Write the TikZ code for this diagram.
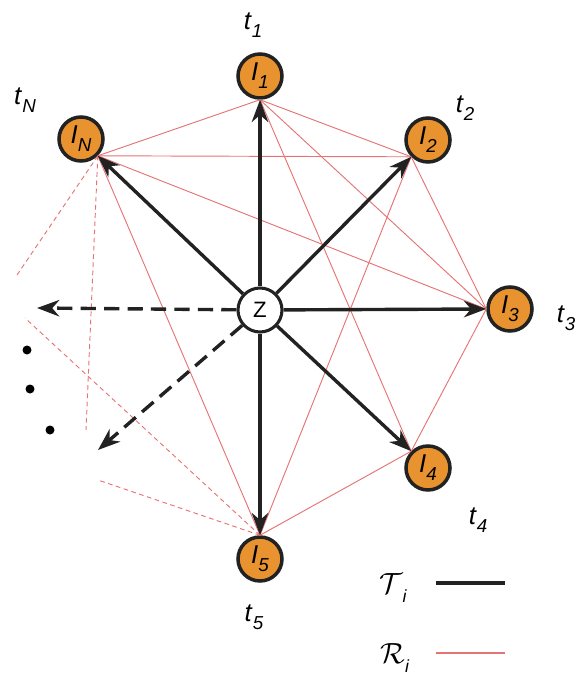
\documentclass[tikz,border=0pt]{standalone}
\usepackage{fontspec}
\setmainfont{Liberation Sans}
\usetikzlibrary{arrows.meta}
\definecolor{nodeorange}{RGB}{232,147,47}
\definecolor{edgered}{RGB}{230,116,116}
\definecolor{arrowblack}{RGB}{34,34,34}
\newcommand{\sublbl}[2]{\textit{#1}\raisebox{-0.6ex}{\fontsize{16}{16}\selectfont\textit{#2}}}
\begin{document}
\begin{tikzpicture}[x=0.03cm,y=-0.03cm,
    inode/.style={circle, draw=arrowblack, line width=3pt, fill=nodeorange, minimum size=1.32cm, inner sep=0pt, font=\fontsize{22}{22}\selectfont},
    znode/.style={circle, draw=arrowblack, line width=2.6pt, fill=white, minimum size=1.32cm, inner sep=0pt, font=\fontsize{19}{19}\selectfont},
    tlabel/.style={font=\fontsize{22}{22}\selectfont},
    tarrow/.style={arrowblack, line width=2.9pt, -{Stealth[length=19pt,width=14pt,inset=6pt]}},
    darrow/.style={tarrow, dash pattern=on 13pt off 7pt},
    redge/.style={edgered, line width=0.8pt},
    dedge/.style={edgered, line width=0.8pt, dash pattern=on 4pt off 3pt}]
    \useasboundingbox (0,0) rectangle (584,682);

    % Nodes
    \node[znode] (Z) at (260,310) {Z};
    \node[inode] (I1) at (260,76) {\sublbl{I}{1}};
    \node[inode] (I2) at (428,140) {\sublbl{I}{2}};
    \node[inode] (I3) at (510,309) {\sublbl{I}{3}};
    \node[inode] (I4) at (428,468) {\sublbl{I}{4}};
    \node[inode] (I5) at (260,559) {\sublbl{I}{5}};
    \node[inode] (IN) at (81,139) {\sublbl{I}{N}};

    % Meeting points on the circles
    \coordinate (m1) at (I1.south);
    \coordinate (m2) at (I2.south west);
    \coordinate (m3) at (I3.west);
    \coordinate (m4) at (I4.north west);
    \coordinate (m5) at (I5.north);
    \coordinate (mN) at (IN.south east);

    % Time labels
    \node[tlabel] (t1) at (253,25) {\sublbl{t}{1}};
    \node[tlabel] (t2) at (465,108) {\sublbl{t}{2}};
    \node[tlabel] (t3) at (566,318) {\sublbl{t}{3}};
    \node[tlabel] (t4) at (478,520) {\sublbl{t}{4}};
    \node[tlabel] (t5) at (254,617) {\sublbl{t}{5}};
    \node[tlabel] (tN) at (25,100) {\sublbl{t}{N}};

    % R_i edges
    \draw[redge] (mN) -- (m1);
    \draw[redge] (mN) -- (m2);
    \draw[redge] (mN) -- (m3);
    \draw[redge] (mN) -- (m5);
    \draw[redge] (m1) -- (m2);
    \draw[redge] (m1) -- (m3);
    \draw[redge] (m1) -- (m4);
    \draw[redge] (m2) -- (m3);
    \draw[redge] (m2) -- (m5);
    \draw[redge] (m3) -- (m4);
    \draw[redge] (m4) -- (m5);

    % Dashed edges to the remaining nodes
    \coordinate (ra) at (17,275);
    \coordinate (rb) at (86,430);
    \coordinate (rc) at (25,318);
    \coordinate (rd) at (98,480);
    \draw[dedge] (mN) -- (ra);
    \draw[dedge] (mN) -- (rb);
    \draw[dedge] (m5) -- (rc);
    \draw[dedge] (m5) -- (rd);

    % T_i arrows
    \draw[tarrow] (Z) -- (m1);
    \draw[tarrow] (Z) -- (m2);
    \draw[tarrow] (Z) -- (m3);
    \draw[tarrow] (Z) -- (m4);
    \draw[tarrow] (Z) -- (m5);
    \draw[tarrow] (Z) -- (mN);
    \coordinate (da) at (37,308);
    \coordinate (db) at (98,450);
    \draw[darrow] (Z) -- (da);
    \draw[darrow] (Z) -- (db);

    % Dots
    \fill (27,350) circle (4.5);
    \fill (30,389) circle (4.5);
    \fill (50,430) circle (4.5);

    % Legend
    \node[font=\fontsize{24}{24}\selectfont] (lt) at (393,588) {$\mathcal{T}$\raisebox{-0.6ex}{\fontsize{15}{15}\selectfont\textit{i}}};
    \node[font=\fontsize{24}{24}\selectfont] (lr) at (395,658) {$\mathcal{R}$\raisebox{-0.6ex}{\fontsize{15}{15}\selectfont\textit{i}}};
    \coordinate (lta) at (436,583);
    \coordinate (ltb) at (505,583);
    \coordinate (lra) at (436,653);
    \coordinate (lrb) at (505,653);
    \draw[arrowblack, line width=3.2pt] (lta) -- (ltb);
    \draw[redge, line width=1.2pt] (lra) -- (lrb);
\end{tikzpicture}
\end{document}
